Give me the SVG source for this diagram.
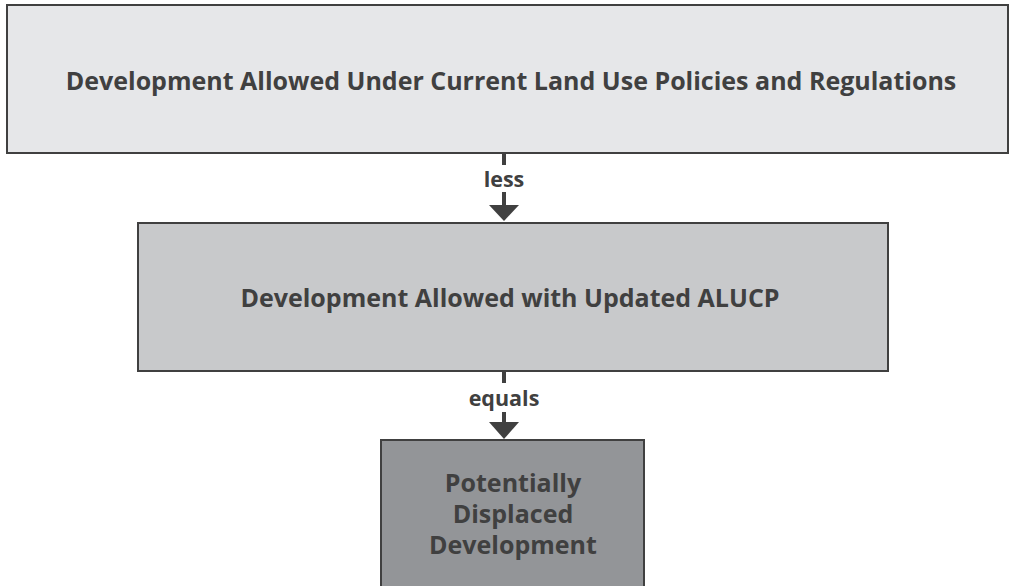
<svg xmlns="http://www.w3.org/2000/svg" width="1010" height="586" viewBox="0 0 1010 586">
<defs>
<style>
.box{stroke:#404040;stroke-width:2}
.t{font-family:"Open Sans","Noto Sans",sans-serif;font-weight:700;fill:#404040;text-anchor:middle}
.big{font-size:25px}
.lbl{font-size:21.5px}
.conn{stroke:#404040;stroke-width:4;fill:none}
.head{fill:#404040}
</style>
</defs>
<rect width="1010" height="586" fill="#ffffff"/>
<g id="node-current">
<rect class="box" x="7" y="5" width="1001" height="148" fill="#E6E7E9"/>
<text class="t big" x="511" y="90">Development Allowed Under Current Land Use Policies and Regulations</text>
</g>
<g id="node-updated">
<rect class="box" x="138" y="223" width="750" height="148" fill="#C8C9CB"/>
<text class="t big" x="510" y="307">Development Allowed with Updated ALUCP</text>
</g>
<g id="node-displaced">
<rect class="box" x="381" y="440" width="263" height="150" fill="#939598"/>
<text class="t big" x="513" y="492">Potentially</text>
<text class="t big" x="513" y="523">Displaced</text>
<text class="t big" x="513" y="554">Development</text>
</g>
<g id="connectors">
<line class="conn" x1="504" y1="153" x2="504" y2="165"/>
<line class="conn" x1="504" y1="192" x2="504" y2="206"/>
<polygon class="head" points="489,205 519,205 504,221"/>
<text class="t lbl" x="504" y="187">less</text>
<line class="conn" x1="504" y1="371" x2="504" y2="383"/>
<line class="conn" x1="504" y1="412" x2="504" y2="423"/>
<polygon class="head" points="489,422 519,422 504,439"/>
<text class="t lbl" x="504" y="406">equals</text>
</g>
</svg>
